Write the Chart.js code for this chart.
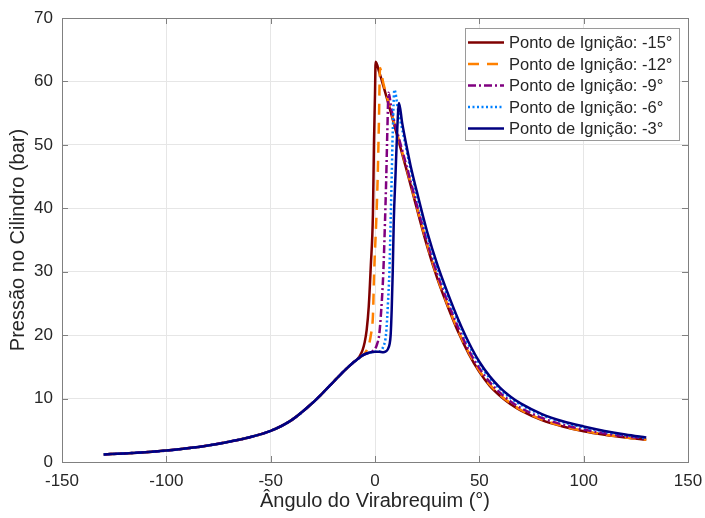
<!DOCTYPE html>
<html>
<head>
<meta charset="utf-8">
<script src="https://cdn.jsdelivr.net/npm/chart.js@4.4.1/dist/chart.umd.min.js"></script>
<style>
    html, body { margin: 0; padding: 0; background: #fff; }
    #wrap { width: 705px; height: 518px; }
</style>
</head>
<body>
<div id="wrap"><canvas id="pressureChart" width="705" height="518"></canvas></div>
<script>
// Compression (motored) part, shared by every curve until ignition takes over
const motorAngle = [-130, -120, -110, -100, -90, -80, -70, -60, -50, -40, -30, -25, -20, -15, -10, -8, -6, -4, -2, 0, 2, 4];
const motorPressure = [1.2, 1.35, 1.55, 1.8, 2.15, 2.6, 3.2, 3.9, 4.9, 6.6, 9.3, 10.9, 12.6, 14.3, 15.8, 16.3, 16.8, 17.1, 17.3, 17.4, 17.4, 17.3];

const ignitionLabels = ["Ponto de Ignição: -15°", "Ponto de Ignição: -12°", "Ponto de Ignição: -9°", "Ponto de Ignição: -6°", "Ponto de Ignição: -3°"];

// combustion + expansion part of each curve
const angleM15 = [-8, -7, -6, -5, -4, -3, -2, -1, -0.5, 0, 0.3, 2, 4, 6, 8, 10, 12, 14, 16, 18, 20, 25, 30, 35, 40, 45, 50, 55, 60, 65, 70, 80, 90, 100, 110, 120, 130];
const pressM15 = [16.4, 16.9, 17.6, 18.8, 20.8, 24.5, 31, 39, 50, 58, 63.1, 61.5, 59.3, 57.0, 54.6, 52.2, 49.8, 47.4, 45.0, 42.5, 40.0, 34.0, 28.8, 24.4, 20.4, 17.0, 14.2, 12.0, 10.4, 9.1, 8.1, 6.6, 5.6, 4.85, 4.3, 3.87, 3.52];

const angleM12 = [-5, -4, -3, -2, -1, -0.4, 0.6, 1.3, 1.9, 2.4, 4, 6, 8, 10, 12, 14, 16, 18, 20, 25, 30, 35, 40, 45, 50, 55, 60, 65, 70, 80, 90, 100, 110, 120, 130];
const pressM12 = [17.1, 17.6, 18.4, 20, 23, 30, 38, 45, 54, 62.1, 59.7, 57.3, 54.9, 52.5, 50.1, 47.7, 45.3, 42.8, 40.3, 34.3, 29.0, 24.6, 20.6, 17.2, 14.4, 12.2, 10.55, 9.25, 8.2, 6.7, 5.65, 4.9, 4.32, 3.88, 3.52];

const angleM9 = [-1, 0, 1, 2, 3, 4, 4.8, 5.4, 5.9, 6.5, 8, 10, 12, 14, 16, 18, 20, 25, 30, 35, 40, 45, 50, 55, 60, 65, 70, 80, 90, 100, 110, 120, 130];
const pressM9 = [17.5, 17.8, 18.6, 20, 24, 30, 38, 45, 52, 58.2, 55.4, 52.8, 50.4, 48.0, 45.6, 43.1, 40.6, 34.7, 29.5, 25.1, 21.1, 17.6, 14.8, 12.6, 10.9, 9.55, 8.5, 6.95, 5.9, 5.12, 4.52, 4.05, 3.68];

const angleM6 = [3, 4, 5, 5.5, 6.2, 6.9, 7.5, 8, 8.5, 9.3, 11, 13, 15, 17, 20, 25, 30, 35, 40, 45, 50, 55, 60, 65, 70, 80, 90, 100, 110, 120, 130];
const pressM6 = [17.6, 18.2, 19.4, 21, 25, 30, 38, 45, 52, 58.7, 55.6, 52.5, 49.4, 46.2, 42.1, 35.7, 30.5, 26.0, 22.0, 18.4, 15.5, 13.2, 11.45, 10.05, 9.0, 7.4, 6.28, 5.47, 4.8, 4.23, 3.78];

const angleM3 = [5, 6, 7, 7.5, 8, 8.5, 9, 9.8, 10.6, 11.5, 13, 15, 17, 20, 25, 30, 35, 40, 45, 50, 55, 60, 65, 70, 80, 90, 100, 110, 120, 130];
const pressM3 = [17.4, 17.7, 18.6, 20, 24, 30, 38, 45, 52, 56.6, 53.5, 50.0, 46.8, 42.7, 36.3, 31.0, 26.5, 22.4, 18.8, 15.8, 13.5, 11.7, 10.3, 9.2, 7.56, 6.42, 5.6, 4.9, 4.33, 3.87];

const xTicks = [-150, -100, -50, 0, 50, 100, 150];
const yTicks = [0, 10, 20, 30, 40, 50, 60, 70];

function buildCurve(angles, press) {
    const pts = [];
    motorAngle.forEach((a, i) => {
        if (a < angles[0]) pts.push({ x: a, y: motorPressure[i] });
    });
    angles.forEach((a, i) => pts.push({ x: a, y: press[i] }));
    return pts;
}

const seriesStyle = [
    { color: "#7f0000", dash: [] },
    { color: "#ff8000", dash: [11, 8] },
    { color: "#800080", dash: [8, 3, 2, 3] },
    { color: "#0080ff", dash: [2, 2.5] },
    { color: "#000080", dash: [] }
];

const curves = [
    buildCurve(angleM15, pressM15),
    buildCurve(angleM12, pressM12),
    buildCurve(angleM9, pressM9),
    buildCurve(angleM6, pressM6),
    buildCurve(angleM3, pressM3)
];

const textColor = "#262626";
const axisColor = "#808080";
const fontFamily = "'Liberation Sans', Arial, Helvetica, sans-serif";

// box round the plot + inward tick marks (MATLAB look), legend inside the axes
const axesBox = {
    id: "axesBox",
    afterDatasetsDraw(chart) {
        const { ctx, chartArea: a, scales } = chart;
        ctx.save();
        ctx.strokeStyle = axisColor;
        ctx.lineWidth = 1;
        ctx.beginPath();
        xTicks.forEach(v => {
            const px = Math.round(scales.x.getPixelForValue(v)) + 0.5;
            ctx.moveTo(px, a.bottom); ctx.lineTo(px, a.bottom - 6);
            ctx.moveTo(px, a.top); ctx.lineTo(px, a.top + 6);
        });
        yTicks.forEach(v => {
            const py = Math.round(scales.y.getPixelForValue(v)) + 0.5;
            ctx.moveTo(a.left, py); ctx.lineTo(a.left + 6, py);
            ctx.moveTo(a.right, py); ctx.lineTo(a.right - 6, py);
        });
        ctx.stroke();
        ctx.strokeRect(Math.round(a.left) + 0.5, Math.round(a.top) + 0.5, Math.round(a.right - a.left), Math.round(a.bottom - a.top));
        ctx.restore();
    },
    afterDraw(chart) {
        const { ctx, chartArea: a } = chart;
        const bx = a.right - 223, by = a.top + 10, bw = 214, bh = 112;
        ctx.save();
        ctx.fillStyle = "#ffffff";
        ctx.fillRect(bx, by, bw, bh);
        ctx.strokeStyle = "#9a9a9a";
        ctx.lineWidth = 1;
        ctx.strokeRect(bx + 0.5, by + 0.5, bw, bh);
        ctx.font = "16.5px " + fontFamily;
        ctx.textBaseline = "middle";
        ctx.fillStyle = textColor;
        ignitionLabels.forEach((label, i) => {
            const ry = by + 14.5 + i * 21.5;
            ctx.beginPath();
            ctx.strokeStyle = seriesStyle[i].color;
            ctx.lineWidth = 2.5;
            ctx.setLineDash(seriesStyle[i].dash);
            ctx.moveTo(bx + 3, ry);
            ctx.lineTo(bx + 39, ry);
            ctx.stroke();
            ctx.setLineDash([]);
            ctx.fillText(label, bx + 44, ry + 1);
        });
        ctx.restore();
    }
};

const ctx = document.getElementById("pressureChart").getContext("2d");
new Chart(ctx, {
    type: "line",
    data: {
        datasets: curves.map((pts, i) => ({
            label: ignitionLabels[i],
            data: pts,
            borderColor: seriesStyle[i].color,
            borderDash: seriesStyle[i].dash,
            borderWidth: 2.5,
            pointRadius: 0,
            fill: false,
            cubicInterpolationMode: "monotone",
            order: 4 - i
        }))
    },
    options: {
        responsive: false,
        animation: false,
        devicePixelRatio: 1,
        layout: { padding: { top: 18, right: 17, left: 0, bottom: 0 } },
        plugins: {
            legend: { display: false },
            tooltip: { enabled: false }
        },
        scales: {
            x: {
                type: "linear",
                min: -150,
                max: 150,
                afterBuildTicks: s => { s.ticks = xTicks.map(v => ({ value: v })); },
                afterFit: s => { s.height = 56; s.paddingLeft = 0; s.paddingRight = 0; },
                grid: { color: "#e6e6e6", drawTicks: false },
                border: { display: false },
                ticks: { color: textColor, font: { size: 17, family: fontFamily }, padding: 9, maxRotation: 0 },
                title: { display: true, text: "Ângulo do Virabrequim (°)", color: textColor, font: { size: 20, family: fontFamily }, padding: { top: 0, bottom: 5 } }
            },
            y: {
                type: "linear",
                min: 0,
                max: 70,
                afterBuildTicks: s => { s.ticks = yTicks.map(v => ({ value: v })); },
                afterFit: s => { s.width = 62; s.paddingTop = 0; s.paddingBottom = 0; },
                grid: { color: "#e6e6e6", drawTicks: false },
                border: { display: false },
                ticks: { color: textColor, font: { size: 17, family: fontFamily }, padding: 9 },
                title: { display: true, text: "Pressão no Cilindro (bar)", color: textColor, font: { size: 20, family: fontFamily }, padding: { top: 6, bottom: 0 } }
            }
        }
    },
    plugins: [axesBox]
});
</script>
</body>
</html>
